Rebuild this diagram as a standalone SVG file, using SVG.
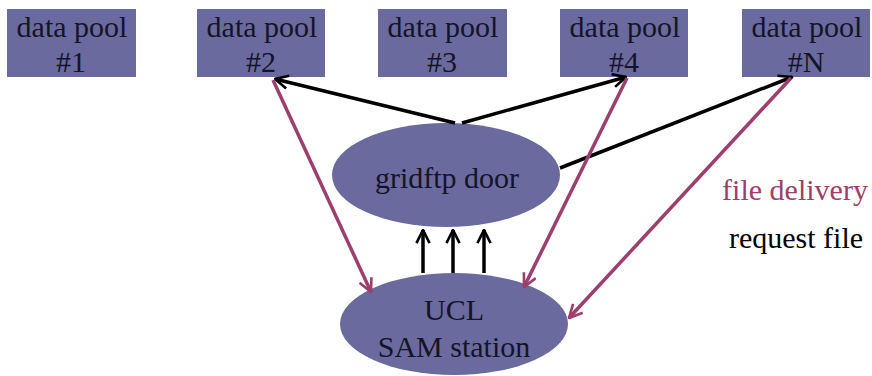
<svg xmlns="http://www.w3.org/2000/svg" width="872" height="376" viewBox="0 0 872 376">
<style>
.box{fill:#6a6a9e}
.t{font-size:30px;fill:#141428;text-anchor:middle}
.blk{stroke:#000;stroke-width:3.5;fill:none}
.pnk{stroke:#9c3f6c;stroke-width:3.5;fill:none}
</style>
<defs>
<marker id="ab" viewBox="0 0 12 12" refX="11" refY="6" markerWidth="4.5" markerHeight="4.5" markerUnits="strokeWidth" orient="auto">
<path d="M1,1 L11,6 L1,11" fill="none" stroke="#000" stroke-width="2"/>
</marker>
<marker id="ap" viewBox="0 0 12 12" refX="11" refY="6" markerWidth="4.5" markerHeight="4.5" markerUnits="strokeWidth" orient="auto">
<path d="M1,1 L11,6 L1,11" fill="none" stroke="#9c3f6c" stroke-width="2"/>
</marker>
</defs>
<g font-family="Liberation Serif, Times New Roman, serif">
<g id="pool1"><rect class="box" x="7" y="9" width="129" height="68"/><text class="t" x="72" y="37">data pool</text><text class="t" x="71" y="72">#1</text></g>
<g id="pool2"><rect class="box" x="197" y="9" width="128" height="68"/><text class="t" x="262" y="37">data pool</text><text class="t" x="261" y="72">#2</text></g>
<g id="pool3"><rect class="box" x="378" y="9" width="129" height="68"/><text class="t" x="443" y="37">data pool</text><text class="t" x="442" y="72">#3</text></g>
<g id="pool4"><rect class="box" x="560" y="9" width="128" height="68"/><text class="t" x="625" y="37">data pool</text><text class="t" x="624" y="72">#4</text></g>
<g id="poolN"><rect class="box" x="742" y="9" width="128" height="68"/><text class="t" x="807" y="37">data pool</text><text class="t" x="806" y="72">#N</text></g>
<g id="gridftp"><ellipse class="box" cx="446" cy="175" rx="114" ry="52"/><text class="t" x="447" y="188">gridftp door</text></g>
<g id="ucl"><ellipse class="box" cx="454" cy="324" rx="114" ry="51"/><text class="t" x="454" y="320">UCL</text><text class="t" x="454" y="357">SAM station</text></g>
<g id="connectors">
<line class="blk" x1="455" y1="123" x2="275" y2="79" marker-end="url(#ab)"/>
<line class="blk" x1="462" y1="123" x2="626" y2="77" marker-end="url(#ab)"/>
<line class="blk" x1="560" y1="168" x2="792" y2="77" marker-end="url(#ab)"/>
<line class="blk" x1="423" y1="273" x2="423" y2="230" marker-end="url(#ab)"/>
<line class="blk" x1="453" y1="273" x2="453" y2="230" marker-end="url(#ab)"/>
<line class="blk" x1="484" y1="273" x2="484" y2="230" marker-end="url(#ab)"/>
<line class="pnk" x1="273" y1="80" x2="371" y2="292" marker-end="url(#ap)"/>
<line class="pnk" x1="627" y1="78" x2="524" y2="287" marker-end="url(#ap)"/>
<line class="pnk" x1="791" y1="78" x2="569" y2="318" marker-end="url(#ap)"/>
</g>
<g id="legend">
<text class="t" x="795" y="200" style="fill:#9c3f6c">file delivery</text>
<text class="t" x="796" y="248" style="fill:#000">request file</text>
</g>
</g>
</svg>
